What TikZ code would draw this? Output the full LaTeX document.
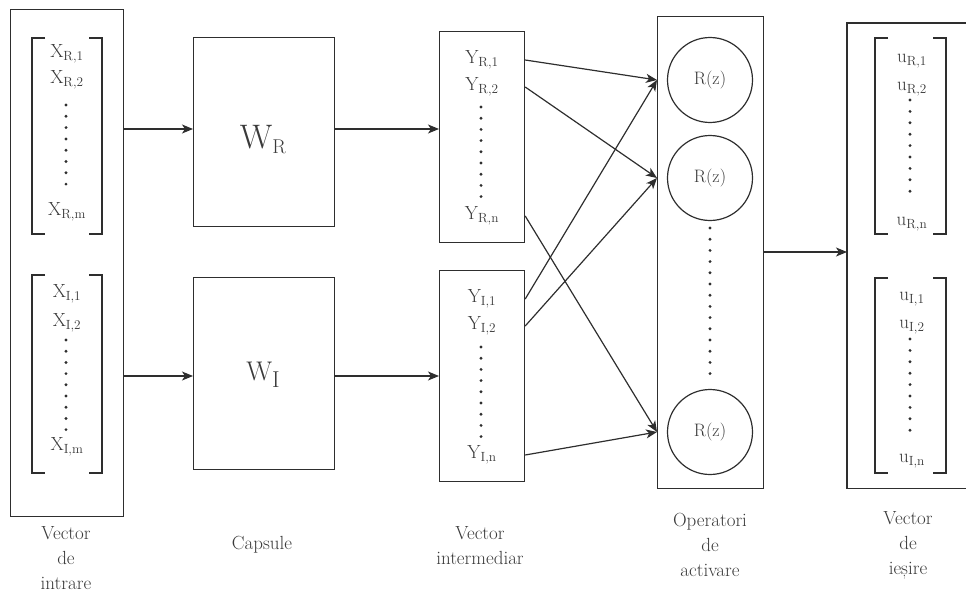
\documentclass[tikz,border=0pt]{standalone}
\usepackage{fontspec}
\usetikzlibrary{arrows.meta,calc}
\definecolor{ink}{HTML}{2E2E2E}
\definecolor{txt}{HTML}{3A3A3A}

% bracket pair: left x, right x, top y, bottom y
\newcommand\brackets[4]{%
  \draw[ink,line width=1.1pt] ({#1+13},#3) -- (#1,#3) -- (#1,#4) -- ({#1+13},#4);
  \draw[ink,line width=1.1pt] ({#2-13},#3) -- (#2,#3) -- (#2,#4) -- ({#2-13},#4);}
% vertical column of dots: x, first y, step, count-1
\newcommand\dotcol[4]{%
  \foreach \k in {0,...,#4} \fill[ink] (#1,{#2+\k*#3}) circle (1.6pt);}

\begin{document}
\begin{tikzpicture}[x=1pt,y=-1pt,
  box/.style={draw=ink, line width=1.2pt, inner sep=0pt, anchor=north west},
  elem/.style={font=\fontsize{19}{22}\selectfont, text=txt, inner sep=0pt},
  captext/.style={font=\fontsize{19}{25}\selectfont, align=center, text=txt, inner sep=0pt},
  act/.style={circle, draw=ink, line width=1.2pt, minimum size=85, inner sep=0pt,
              font=\fontsize{18}{20}\selectfont, text=txt},
  conn/.style={draw=ink, line width=1.2pt, -{Stealth[length=11pt,width=9pt,inset=3pt]}}]
\useasboundingbox (0,0) rectangle (966,594);

% input vector
\node[box, minimum width=113, minimum height=507] (xin) at (10,9) {};
\brackets{32}{102}{38}{234}
\brackets{32}{102}{275}{473}
\node[elem] (xr1) at (67,54) {X\textsubscript{R,1}};
\node[elem] (xr2) at (67,80) {X\textsubscript{R,2}};
\dotcol{66}{105}{11.3}{7}
\node[elem] (xrm) at (67,212) {X\textsubscript{R,m}};
\node[elem] (xi1) at (67,294) {X\textsubscript{I,1}};
\node[elem] (xi2) at (67,323) {X\textsubscript{I,2}};
\dotcol{66}{340}{11.2}{8}
\node[elem] (xim) at (67,447) {X\textsubscript{I,m}};

% capsules
\node[box, minimum width=141, minimum height=189] (wr) at (193,37) {};
\node[box, minimum width=141, minimum height=192] (wi) at (193,277) {};
\node[inner sep=0pt, text=txt, anchor=base] at (263,148)
  {{\fontsize{34}{34}\selectfont W}\raisebox{-5pt}{\fontsize{20}{20}\selectfont R}};
\node[inner sep=0pt, text=txt, anchor=base] at (263,380)
  {{\fontsize{27}{27}\selectfont W}\raisebox{-7pt}{\fontsize{23}{23}\selectfont I}};

% intermediate vector
\node[box, minimum width=85, minimum height=211] (yr) at (439,31) {};
\node[box, minimum width=85, minimum height=211] (yi) at (439,270) {};
\node[elem] (yr1) at (482,60) {Y\textsubscript{R,1}};
\node[elem] (yr2) at (482,87) {Y\textsubscript{R,2}};
\dotcol{481}{107}{11.2}{8}
\node[elem] (yrn) at (482,216) {Y\textsubscript{R,n}};
\node[elem] (yi1) at (482,299) {Y\textsubscript{I,1}};
\node[elem] (yi2) at (482,326) {Y\textsubscript{I,2}};
\dotcol{481}{347}{11.2}{8}
\node[elem] (yin) at (482,455) {Y\textsubscript{I,n}};

% activation operators
\node[box, minimum width=106, minimum height=472] (op) at (657,16) {};
\node[act] (c1) at (710,80) {R(z)};
\node[act] (c2) at (710,178) {R(z)};
\node[act] (c3) at (710,432) {R(z)};
\dotcol{710}{228}{11.2}{13}

% output vector (open on the right)
\node[inner sep=0pt, minimum width=119, minimum height=465, anchor=north west] (out) at (847,23) {};
\draw[ink, line width=1.2pt] (out.north east) -- (out.north west) -- (out.south west) -- (out.south east);
\brackets{875}{946}{38}{234}
\brackets{875}{946}{278}{473}
\node[elem] (ur1) at (912,61) {u\textsubscript{R,1}};
\node[elem] (ur2) at (912,89) {u\textsubscript{R,2}};
\dotcol{910}{100}{11.4}{8}
\node[elem] (urn) at (912,224) {u\textsubscript{R,n}};
\node[elem] (ui1) at (912,299) {u\textsubscript{I,1}};
\node[elem] (ui2) at (912,327) {u\textsubscript{I,2}};
\dotcol{910}{339}{11.4}{8}
\node[elem] (uin) at (912,461) {u\textsubscript{I,n}};

% connectors
\coordinate (p1) at (xin.east |- 0,129);
\coordinate (p2) at (xin.east |- 0,376);
\draw[conn] (p1) -- (p1 -| wr.west);
\draw[conn] (p2) -- (p2 -| wi.west);
\draw[conn] (wr.east |- p1) -- (yr.west |- p1);
\draw[conn] (wi.east |- p2) -- (yi.west |- p2);

\draw[conn] (yr1 -| yr.east) -- (c1 -| op.west);
\draw[conn] (yr2 -| yr.east) -- (c2 -| op.west);
\draw[conn] (yrn -| yr.east) -- (c3 -| op.west);
\draw[conn] (yi1 -| yi.east) -- (c1 -| op.west);
\draw[conn] (yi2 -| yi.east) -- (c2 -| op.west);
\draw[conn] (yin -| yi.east) -- (c3 -| op.west);

\coordinate (p3) at (op.east |- 0,252);
\draw[conn] (p3) -- (p3 -| out.west);

% captions
\node[captext] at (66,558) {Vector\\de\\intrare};
\node[captext] at (262,545) {Capsule};
\node[captext] at (480,546) {Vector\\intermediar};
\node[captext] at (710,545) {Operatori\\de\\activare};
\node[captext] at (908,545) {Vector\\de\\ieșire};
\end{tikzpicture}
\end{document}
